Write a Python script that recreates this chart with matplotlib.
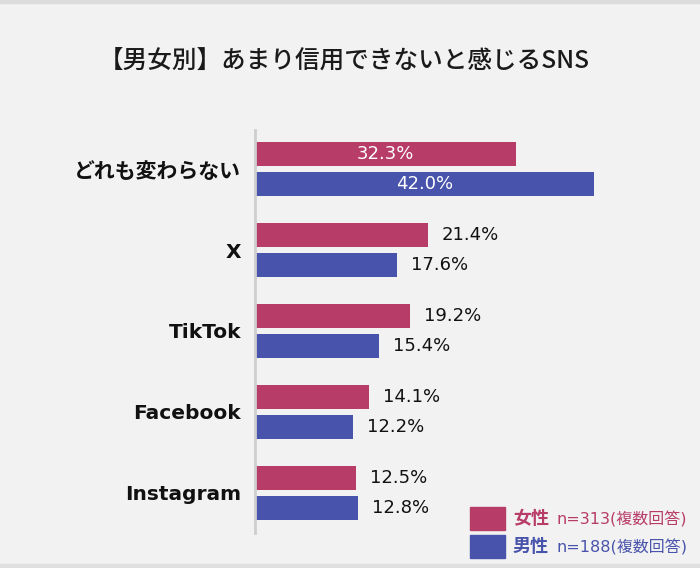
import matplotlib
matplotlib.use("Agg")
import matplotlib.pyplot as plt
from matplotlib.patches import Rectangle
import numpy as np

plt.rcParams['font.family'] = ['Noto Sans CJK JP', 'DejaVu Sans']

categories = ["どれも変わらない", "X", "TikTok", "Facebook", "Instagram"]
female = [32.3, 21.4, 19.2, 14.1, 12.5]
male = [42.0, 17.6, 15.4, 12.2, 12.8]
series_names = ["女性", "男性"]
series_notes = ["n=313(複数回答)", "n=188(複数回答)"]
title = "【男女別】あまり信用できないと感じるSNS"

c_f = "#b83c68"
c_m = "#4853ab"
bg = "#f2f2f2"

W, H = 700, 568
fig = plt.figure(figsize=(7, 5.68), dpi=100, facecolor=bg)

# borders
fig.patches.append(Rectangle((0, 1 - 3 / H), 1, 3 / H, transform=fig.transFigure, color="#dcdcdc", zorder=0))
fig.patches.append(Rectangle((0, 0), 1, 4 / H, transform=fig.transFigure, color="#e0e0e0", zorder=0))

ax_left = 255 / W
ax_top = 130 / H
ax_bot = 533 / H
xmax = 50
ppu = (594 - 255) / 42.0
ax_w = xmax * ppu / W
ax = fig.add_axes([ax_left, 1 - ax_bot, ax_w, ax_bot - ax_top])
ax.set_facecolor(bg)

spacing = 81.0
y0 = 169.0
ylim_top = -(y0 - 130) / spacing
ylim_bot = (533 - y0) / spacing
ax.set_ylim(ylim_bot, ylim_top)
ax.set_xlim(0, xmax)

y = np.arange(len(categories))
off = 0.185
h = 0.285
ax.barh(y - off, female, height=h, color=c_f)
ax.barh(y + off, male, height=h, color=c_m)

num_font = ['DejaVu Sans']
for i in range(len(categories)):
    for vals, o in ((female, -off), (male, off)):
        v = vals[i]
        if i == 0:
            ax.text(v / 2, y[i] + o, f"{v:.1f}%", color="white", ha="center", va="center",
                    fontsize=13, family=num_font)
        else:
            ax.text(v + 14 / ppu, y[i] + o, f"{v:.1f}%", color="#111111", ha="left", va="center",
                    fontsize=13, family=num_font)

ax.set_yticks(y)
ax.set_yticklabels(categories, fontsize=15, fontweight="bold", color="#111111")
for lbl in ax.get_yticklabels()[1:]:
    lbl.set_family(['DejaVu Sans', 'Noto Sans CJK JP'])
    lbl.set_fontsize(14.5)
ax.tick_params(axis='y', length=0, pad=10)
ax.set_xticks([])
for s in ["top", "right", "bottom"]:
    ax.spines[s].set_visible(False)
ax.spines["left"].set_color("#cfcfcf")
ax.spines["left"].set_linewidth(2)

fig.text(0.492, 1 - 62 / H, title, ha="center", va="center", fontsize=17.7,
         fontweight="medium", color="#1a1a1a")

# legend
leg = [(507, c_f), (535, c_m)]
for (ytop, col), name, note in zip(leg, series_names, series_notes):
    fig.patches.append(Rectangle((470 / W, 1 - (ytop + 23) / H), 35 / W, 23 / H,
                                 transform=fig.transFigure, color=col))
    yc = 1 - (ytop + 12) / H
    fig.text(513 / W, yc, name, color=col, fontsize=13, fontweight="bold", va="center", ha="left")
    fig.text(556 / W, yc, note, color=col, fontsize=11.5, va="center", ha="left",
             family=['DejaVu Sans', 'Noto Sans CJK JP'])

fig.savefig("out.png", dpi=100, facecolor=bg)
